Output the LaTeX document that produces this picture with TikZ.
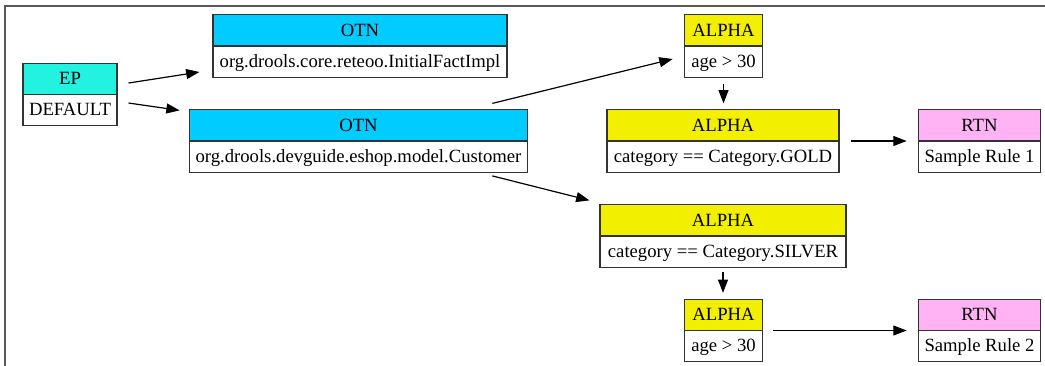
\documentclass[tikz,border=0pt]{standalone}
\usepackage{fontspec}
\setmainfont{Liberation Serif}
\usetikzlibrary{shapes.multipart,arrows.meta}

\definecolor{epcol}{HTML}{22F2DF}
\definecolor{otncol}{HTML}{00CCFF}
\definecolor{alphacol}{HTML}{F2F000}
\definecolor{rtncol}{HTML}{FFB3F5}

\tikzset{
	rec/.style={rectangle split, rectangle split parts=2, draw=black!80, line width=0.8pt,
		inner xsep=3pt, inner ysep=0pt, font=\fontsize{14}{16}\selectfont,
		rectangle split part fill={#1,white}},
	link/.style={-{Triangle[length=10pt,width=7.5pt]}, line width=0.9pt}
}

\begin{document}
\begin{tikzpicture}[x=0.75pt,y=-0.75pt]

\def\hs{\rule[-7pt]{0pt}{22.5pt}}
\useasboundingbox (0,0) rectangle (1045,366);
\draw[black!65, line width=1.2pt] (1045,6) -- (5,6) -- (5,366);

% nodes
\node[rec=epcol, minimum width=70.5pt] (ep) at (70,94.5) {\hs EP\nodepart{two}\hs DEFAULT};
\node[rec=otncol, minimum width=220.5pt] (otn1) at (360,46) {\hs OTN\nodepart{two}\hs org.drools.core.reteoo.InitialFactImpl};
\node[rec=otncol, minimum width=254pt] (otn2) at (358.5,141) {\hs OTN\nodepart{two}\hs org.drools.devguide.eshop.model.Customer};
\node[rec=alphacol, minimum width=59pt] (a1) at (723.5,46) {\hs ALPHA\nodepart{two}\hs age > 30};
\node[rec=alphacol, minimum width=174pt] (a2) at (723,141) {\hs ALPHA\nodepart{two}\hs category == Category.GOLD};
\node[rec=rtncol, minimum width=92pt] (r1) at (979.5,141) {\hs RTN\nodepart{two}\hs Sample Rule 1};
\node[rec=alphacol, minimum width=184.5pt] (a3) at (723,236) {\hs ALPHA\nodepart{two}\hs category == Category.SILVER};
\node[rec=alphacol, minimum width=59pt] (a4) at (723.5,330.5) {\hs ALPHA\nodepart{two}\hs age > 30};
\node[rec=rtncol, minimum width=92pt] (r2) at (979.5,330.5) {\hs RTN\nodepart{two}\hs Sample Rule 2};

% edges
\draw[link] ([xshift=8.25pt,yshift=8.6pt]ep.east) -- ([xshift=-9.75pt,yshift=-19.5pt]otn1.west);
\draw[link] ([xshift=8.25pt,yshift=-6.4pt]ep.east) -- ([xshift=-6.75pt,yshift=-0.75pt]otn2.north west);
\draw[link] ([xshift=-27pt,yshift=4.5pt]otn2.north east) -- ([xshift=-8.25pt,yshift=-9.75pt]a1.west);
\draw[link] ([xshift=-27pt,yshift=-2.5pt]otn2.south east) -- ([xshift=-7.5pt,yshift=3pt]a3.north west);
\draw[link, shorten <=4.5pt, shorten >=4.5pt] (a1.south) -- (a1.south |- a2.north);
\draw[link, shorten <=8.25pt, shorten >=8.25pt] (a2.east) -- (r1.west);
\draw[link, shorten <=3pt, shorten >=4.5pt] (a3.south) -- (a3.south |- a4.north);
\draw[link, shorten <=7.5pt, shorten >=8.25pt] (a4.east) -- (r2.west);

\end{tikzpicture}
\end{document}
